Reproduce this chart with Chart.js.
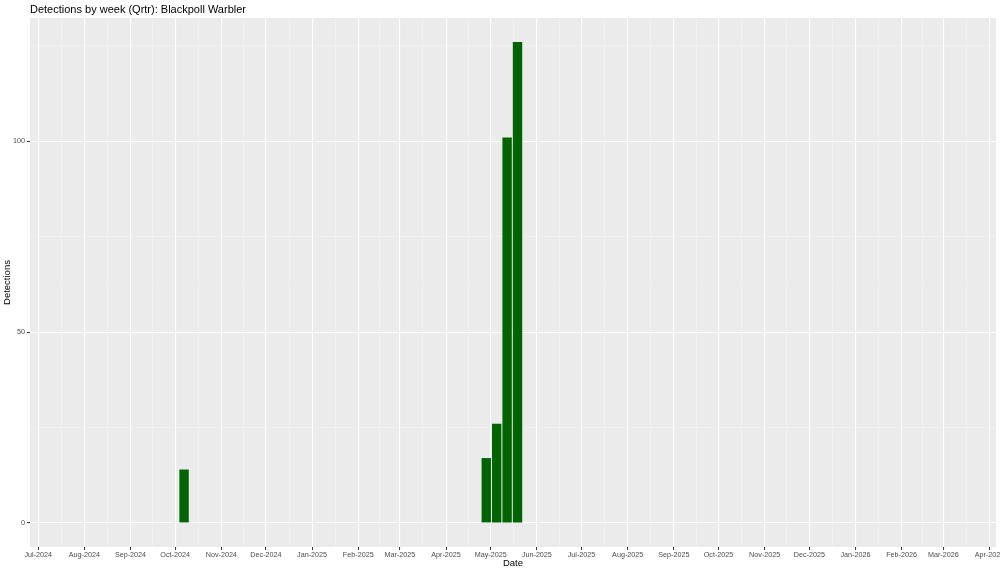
<!DOCTYPE html>
<html>
<head>
<meta charset="utf-8">
<title>Detections by week (Qrtr): Blackpoll Warbler</title>
<script src="https://cdn.jsdelivr.net/npm/chart.js@4.4.1/dist/chart.umd.min.js"></script>
<style>
  html, body { margin:0; padding:0; background:#fff; }
  #wrap { width:1000px; height:573px; position:relative; }
</style>
</head>
<body>
<div id="wrap"><canvas id="chart"></canvas></div>
<script>
// weekly detection counts (bar centred on week start)
const weekStarts = ['2024-10-07','2025-04-28','2025-05-05','2025-05-12','2025-05-19'];
const detections = [14, 17, 26, 101, 126];

// axis breaks
const xTickLabels = ['Jul-2024','Aug-2024','Sep-2024','Oct-2024','Nov-2024','Dec-2024','Jan-2025','Feb-2025',
  'Mar-2025','Apr-2025','May-2025','Jun-2025','Jul-2025','Aug-2025','Sep-2025','Oct-2025','Nov-2025',
  'Dec-2025','Jan-2026','Feb-2026','Mar-2026','Apr-2026'];
const yTickValues = [0, 50, 100];
const xRange = ['2024-06-25T12:00Z', '2026-04-05T10:00Z'];

const TITLE = 'Detections by week (Qrtr): Blackpoll Warbler';
const FONT = "'Liberation Sans', Arial, Helvetica, sans-serif";
const MONTHS = ['Jan','Feb','Mar','Apr','May','Jun','Jul','Aug','Sep','Oct','Nov','Dec'];

// dates -> day number (x is linear, in days)
const ORIGIN = Date.UTC(2024, 6, 1);
const toDay = s => (Date.parse(s.length === 10 ? s + 'T00:00Z' : s) - ORIGIN) / 864e5;
const labelDay = l => { const [m, y] = l.split('-'); return (Date.UTC(+y, MONTHS.indexOf(m), 1) - ORIGIN) / 864e5; };

const xMajor = new Map(xTickLabels.map(l => [labelDay(l), l]));
const xMajorDays = [...xMajor.keys()];
const xTicks = [];
xMajorDays.forEach((d, i) => {
  xTicks.push(d);
  if (i < xMajorDays.length - 1) xTicks.push((d + xMajorDays[i + 1]) / 2);
});
const yStep = yTickValues[1] - yTickValues[0];
const yMaxData = Math.max(...detections);
const yPad = yMaxData * 0.05;
const yTicks = [];
for (let v = yTickValues[0]; v <= yMaxData + yPad; v += yStep / 2) yTicks.push(v);

const tv = c => c.tick ? c.tick.value : NaN;
const isMajorX = v => xMajor.has(v);
const isMajorY = v => yTickValues.includes(v);

const panelBg = {
  id: 'panelBg',
  beforeDraw(chart) {
    const { ctx, chartArea: a } = chart;
    ctx.save();
    ctx.fillStyle = '#EBEBEB';
    ctx.fillRect(a.left, a.top, a.right - a.left, a.bottom - a.top);
    ctx.restore();
  }
};
const ggTitle = {
  id: 'ggTitle',
  afterDraw(chart) {
    const { ctx, chartArea: a } = chart;
    ctx.save();
    ctx.font = `11px ${FONT}`;
    ctx.fillStyle = '#000';
    ctx.textBaseline = 'alphabetic';
    ctx.textAlign = 'left';
    ctx.fillText(TITLE, a.left, 13);
    ctx.restore();
  }
};

new Chart(document.getElementById('chart'), {
  type: 'bar',
  data: {
    datasets: [{
      data: weekStarts.map((w, i) => ({ x: toDay(w), y: detections[i] })),
      backgroundColor: '#006400',
      borderWidth: 0,
      barPercentage: 0.9,
      categoryPercentage: 1
    }]
  },
  options: {
    responsive: true, maintainAspectRatio: false, animation: false,
    layout: { padding: { top: 18, right: 4, bottom: 0, left: 0 } },
    plugins: { legend: { display: false }, tooltip: { enabled: false }, title: { display: false } },
    scales: {
      x: {
        type: 'linear', min: toDay(xRange[0]), max: toDay(xRange[1]), offset: false,
        afterBuildTicks: s => { s.ticks = xTicks.map(v => ({ value: v })); },
        afterFit: s => { s.height = 26; s.paddingLeft = 0; s.paddingRight = 0; },
        border: { display: false },
        grid: {
          offset: false,
          color: c => isMajorX(tv(c)) ? '#FFFFFF' : '#F5F5F5',
          lineWidth: c => isMajorX(tv(c)) ? 1.1 : 0.6,
          tickColor: c => isMajorX(tv(c)) ? '#333333' : 'rgba(0,0,0,0)',
          tickLength: 3, tickWidth: 1
        },
        ticks: {
          autoSkip: false, maxRotation: 0, padding: 1, color: '#4D4D4D',
          font: { family: FONT, size: 7.2 },
          callback: v => xMajor.get(v) || ''
        },
        title: { display: true, text: 'Date', color: '#000', font: { family: FONT, size: 9.5 }, padding: { top: 0, bottom: 4.3 } }
      },
      y: {
        min: -yPad, max: yMaxData + yPad,
        afterBuildTicks: s => { s.ticks = yTicks.map(v => ({ value: v })); },
        afterFit: s => { s.width = 30; s.paddingTop = 0; s.paddingBottom = 0; },
        border: { display: false },
        grid: {
          color: c => isMajorY(tv(c)) ? '#FFFFFF' : '#F5F5F5',
          lineWidth: c => isMajorY(tv(c)) ? 1.1 : 0.6,
          tickColor: c => isMajorY(tv(c)) ? '#333333' : 'rgba(0,0,0,0)',
          tickLength: 3, tickWidth: 1
        },
        ticks: {
          autoSkip: false, padding: 2, color: '#4D4D4D',
          font: { family: FONT, size: 7.2 },
          callback: v => isMajorY(v) ? String(v) : ''
        },
        title: { display: true, text: 'Detections', color: '#000', font: { family: FONT, size: 9.5 }, padding: { top: 1.8, bottom: 0 } }
      }
    }
  },
  plugins: [panelBg, ggTitle]
});
</script>
</body>
</html>
